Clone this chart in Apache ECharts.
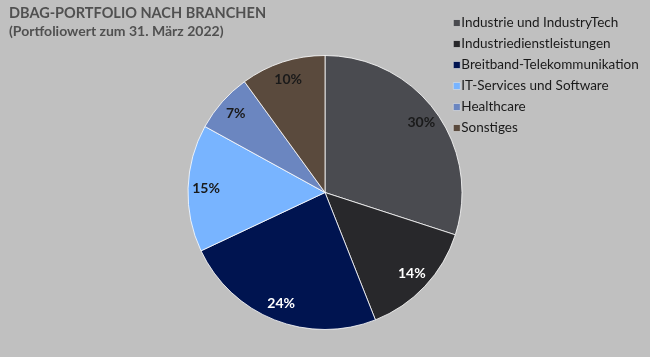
<!DOCTYPE html>
<html><head><meta charset="utf-8">
<script src="https://cdn.jsdelivr.net/npm/echarts@6/dist/echarts.min.js"></script>
<style>html,body{margin:0;padding:0;background:#c0c0c0;}#c{width:650px;height:357px;}</style>
</head><body><div id="c"></div>
<script>
const categories = ["Industrie und IndustryTech","Industriedienstleistungen","Breitband-Telekommunikation","IT-Services und Software","Healthcare","Sonstiges"];
const values = [30, 14, 24, 15, 7, 10];
const colors = ["#4a4b50","#28282b","#001450","#78b4ff","#6b86c0","#5a4a3d"];
const labelColors = ["#1a1a1a","#ffffff","#ffffff","#1a1a1a","#1a1a1a","#1a1a1a"];

const chart = echarts.init(document.getElementById('c'));
const font = 'Lato, "DejaVu Sans", sans-serif';
chart.setOption({
  backgroundColor: '#c0c0c0',
  animation: false,
  title: {
    text: 'DBAG-PORTFOLIO NACH BRANCHEN',
    subtext: '(Portfoliowert zum 31. März 2022)',
    left: 4, top: 0, itemGap: 1,
    textStyle: {fontFamily: font, fontSize: 14.5, fontWeight: 'bold', color: '#505050', lineHeight: 17},
    subtextStyle: {fontFamily: font, fontSize: 14, fontWeight: 'bold', color: '#505050', lineHeight: 17}
  },
  legend: {
    orient: 'vertical', left: 453, top: 16, padding: 0,
    itemWidth: 7, itemHeight: 7, itemGap: 7,
    icon: 'rect',
    data: categories,
    textStyle: {fontFamily: font, fontSize: 13.5, lineHeight: 14, color: '#1a1a1a', padding: [0,0,0,-4]},
    itemStyle: {borderColor: '#e0e0e0', borderWidth: 0.6}
  },
  series: [{
    type: 'pie', center: [325, 192.5], radius: [0, 137],
    startAngle: 90, clockwise: true, silent: true,
    label: {show: false}, labelLine: {show: false},
    itemStyle: {borderColor: '#ffffff', borderWidth: 0.8},
    data: categories.map((n,i)=>({name:n, value: values[i], itemStyle:{color: colors[i]}}))
  },{
    type: 'pie', center: [325, 192.5], radius: [95, 137],
    startAngle: 90, clockwise: true, silent: true,
    legendHoverLink: false,
    itemStyle: {color: 'rgba(0,0,0,0)', borderWidth: 0},
    label: {show: true, position: 'inside', fontFamily: font, fontSize: 14, fontWeight: 'bold',
      formatter: p => p.value + '%'},
    labelLine: {show: false},
    data: categories.map((n,i)=>({name:n, value: values[i], label:{color: labelColors[i]}}))
  }]
});
</script></body></html>
